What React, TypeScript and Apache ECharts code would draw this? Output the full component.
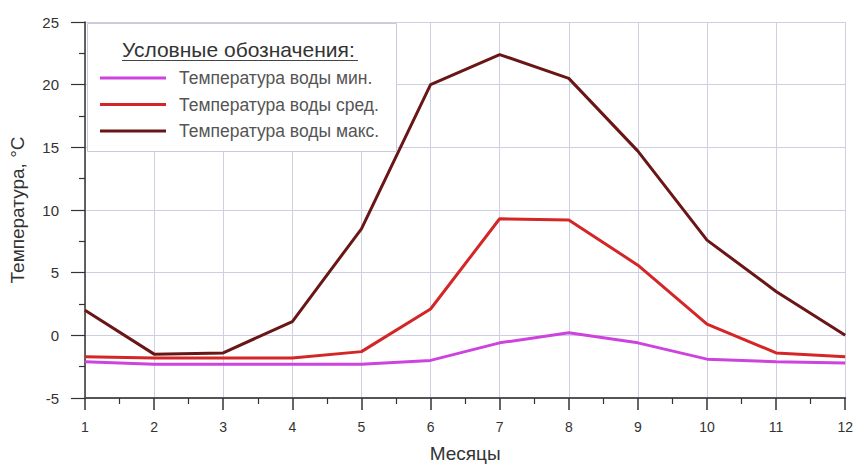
import React, { useEffect, useRef } from "react";
import * as echarts from "echarts";

const months = [1, 2, 3, 4, 5, 6, 7, 8, 9, 10, 11, 12];
const tempMin = [-2.1, -2.3, -2.3, -2.3, -2.3, -2.0, -0.6, 0.2, -0.6, -1.9, -2.1, -2.2];
const tempMean = [-1.7, -1.8, -1.8, -1.8, -1.3, 2.1, 9.3, 9.2, 5.6, 0.9, -1.4, -1.7];
const tempMax = [2.0, -1.5, -1.4, 1.1, 8.5, 20.0, 22.4, 20.5, 14.7, 7.6, 3.5, 0.0];
const seriesNames = [
  "Температура воды мин.",
  "Температура воды сред.",
  "Температура воды макс.",
];
const colors = ["#cc44dd", "#d42626", "#6a1616"];

export default function App() {
  const ref = useRef<HTMLDivElement>(null);
  useEffect(() => {
    if (!ref.current) return;
    const chart = echarts.init(ref.current, null, { renderer: "svg" });
    const mk = (vals: number[]) => months.map((m, i) => [m, vals[i]]);
    const font = "Arial, 'Liberation Sans', sans-serif";
    chart.setOption({
      animation: false,
      backgroundColor: "#fff",
      textStyle: { fontFamily: font },
      grid: { left: 84, right: 9, top: 22, bottom: 62 },
      xAxis: {
        type: "value",
        min: 1,
        max: 12,
        interval: 1,
        name: "Месяцы",
        nameLocation: "middle",
        nameGap: 46,
        nameTextStyle: { color: "#333", fontSize: 19, fontFamily: font },
        axisLine: { onZero: false, lineStyle: { color: "#555", width: 2 } },
        axisTick: { show: true, length: 12, inside: false, lineStyle: { color: "#333", width: 1.5 } },
        minorTick: { show: true, splitNumber: 2, length: 6, lineStyle: { color: "#333", width: 1.2 } },
        axisLabel: { color: "#333", fontSize: 14, margin: 22, fontFamily: font },
        splitLine: { show: true, lineStyle: { color: "#cfcfe2", width: 1 } },
      },
      yAxis: {
        type: "value",
        min: -5,
        max: 25,
        interval: 5,
        name: "Температура, °С",
        nameLocation: "middle",
        nameGap: 58,
        nameTextStyle: { color: "#333", fontSize: 19, fontFamily: font },
        axisLine: { show: true, lineStyle: { color: "#333", width: 1.5 } },
        axisTick: { show: true, length: 14, lineStyle: { color: "#333", width: 1.2 } },
        minorTick: { show: true, splitNumber: 2, length: 6, lineStyle: { color: "#333", width: 1.2 } },
        axisLabel: { color: "#333", fontSize: 15, margin: 26, fontFamily: font },
        splitLine: { show: true, lineStyle: { color: "#cfcfe2", width: 1 } },
      },
      legend: {
        show: true,
        orient: "vertical",
        left: 100,
        top: 69,
        padding: 0,
        itemGap: 8.5,
        itemWidth: 66,
        itemHeight: 3,
        icon: "rect",
        z: 101,
        textStyle: { color: "#555", fontSize: 17.5, fontFamily: font, padding: [0, 0, 0, 8] },
        data: seriesNames,
      },
      graphic: [
        {
          type: "rect",
          z: 99,
          shape: { x: 87.5, y: 23.5, width: 309, height: 128 },
          style: { fill: "#fff", stroke: "#c8cadb", lineWidth: 1 },
        },
        {
          type: "text",
          z: 100,
          x: 122,
          y: 39,
          style: {
            text: "Условные обозначения:",
            fill: "#333",
            font: `21px ${font}`,
          },
        },
        {
          type: "line",
          z: 100,
          shape: { x1: 122, y1: 60.5, x2: 358, y2: 60.5 },
          style: { stroke: "#444", lineWidth: 1 },
        },
      ],
      series: [0, 1, 2].map((k) => ({
        type: "line",
        name: seriesNames[k],
        data: mk([tempMin, tempMean, tempMax][k]),
        showSymbol: false,
        symbol: "none",
        lineStyle: { color: colors[k], width: 3 },
        itemStyle: { color: colors[k] },
        z: 3 + k,
      })),
    });
    return () => chart.dispose();
  }, []);
  return (
    <div
      ref={ref}
      style={{ position: "fixed", left: 0, top: 0, width: 856, height: 468 }}
    />
  );
}
